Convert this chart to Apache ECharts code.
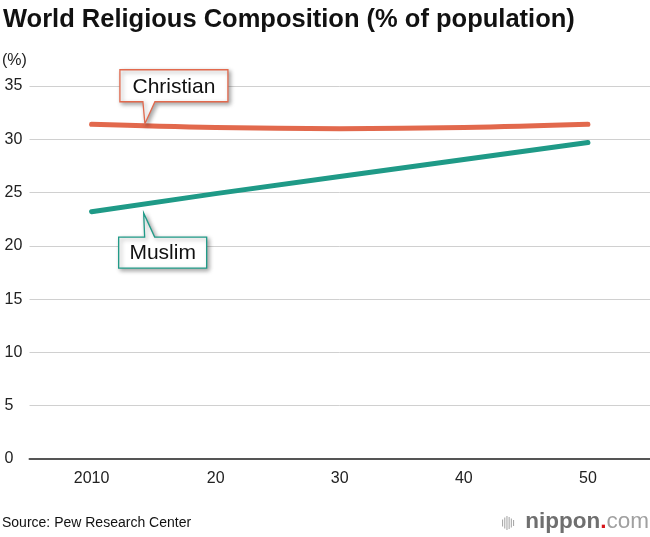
<!DOCTYPE html>
<html><head><meta charset="utf-8">
<script src="https://cdn.jsdelivr.net/npm/echarts@6/dist/echarts.min.js"></script>
<style>html,body{margin:0;padding:0;background:#fff}#c{width:650px;height:537px}</style>
</head><body><div id="c"></div>
<script>
// ---- data ----
const years = ['2010', '20', '30', '40', '50'];
const christian = [31.4, 31.1, 31.0, 31.1, 31.4];
const muslim = [23.2, 24.9, 26.5, 28.1, 29.7];
const yMin = 0, yMax = 35, yStep = 5;
const titleText = 'World Religious Composition (% of population)';
const unitText = '(%)';
const sourceText = 'Source: Pew Research Center';
const seriesNames = ['Christian', 'Muslim'];

const FONT = '"Liberation Sans", Arial, Helvetica, sans-serif';
const colors = ['#e2694d', '#1f9a87'];

const chart = echarts.init(document.getElementById('c'), null, {renderer: 'canvas'});
chart.setOption({
  animation: false,
  backgroundColor: '#fff',
  textStyle: {fontFamily: FONT},
  title: {
    text: titleText, left: 3, top: 7, padding: 0,
    textStyle: {fontSize: 25.5, fontWeight: 'bold', color: '#111', fontFamily: FONT}
  },
  grid: {left: 29.5, top: 86, width: 625, height: 373, containLabel: false},
  xAxis: {
    type: 'category', data: years, boundaryGap: true,
    axisLine: {lineStyle: {color: '#555', width: 2}},
    axisTick: {alignWithLabel: true, inside: true, length: 10, lineStyle: {color: '#ccc', width: 1}},
    axisLabel: {color: '#222', fontSize: 16, margin: 12, fontFamily: FONT},
    splitLine: {show: false}
  },
  yAxis: {
    type: 'value', min: yMin, max: yMax, interval: yStep,
    axisLine: {show: false}, axisTick: {show: false},
    axisLabel: {color: '#222', fontSize: 16, align: 'left', margin: 25, fontFamily: FONT},
    splitLine: {lineStyle: {color: '#d0d0d0', width: 1}}
  },
  series: [
    {name: seriesNames[0], type: 'line', data: christian, smooth: 0.4, showSymbol: false,
     lineStyle: {color: colors[0], width: 5, cap: 'round'}, z: 3},
    {name: seriesNames[1], type: 'line', data: muslim, smooth: false, showSymbol: false,
     lineStyle: {color: colors[1], width: 5, cap: 'round'}, z: 3}
  ]
});

// ---- annotations (positioned from data via the chart's scales) ----
function tipAt(si, data, frac, dy) {
  const p0 = chart.convertToPixel({seriesIndex: si}, [0, data[0]]);
  const p1 = chart.convertToPixel({seriesIndex: si}, [1, data[1]]);
  return [p0[0] + frac * (p1[0] - p0[0]), p0[1] + frac * (p1[1] - p0[1]) + dy];
}
function callout(tip, up, w, h, text, color) {
  const [tx, ty] = tip;
  const l = tx - 25, r = l + w;
  let pts, t, b;
  if (up) { // box above, pointer down
    b = ty - 22; t = b - h;
    pts = [[l, t], [r, t], [r, b], [tx + 10, b], [tx, ty], [tx - 2, b], [l, b]];
  } else {
    t = ty + 24; b = t + h;
    pts = [[l, t], [tx + 1, t], [tx, ty], [tx + 11, t], [r, t], [r, b], [l, b]];
  }
  return [
    {type: 'polygon', shape: {points: pts}, z: 10,
     style: {fill: '#fff', stroke: color, lineWidth: 1.3, shadowBlur: 4, shadowOffsetX: 2, shadowOffsetY: 2, shadowColor: 'rgba(0,0,0,0.35)'}},
    {type: 'text', x: (l + r) / 2, y: (t + b) / 2 + 1, z: 11,
     style: {text: text, font: '21px ' + FONT, fill: '#111', textAlign: 'center', textVerticalAlign: 'middle'}}
  ];
}
const cTip = tipAt(0, christian, 0.43, -2);
const mTip = tipAt(1, muslim, 0.42, 9);

const logoBars = [];
const barH = [7, 11, 14, 12, 9, 6];
barH.forEach((h, i) => {
  logoBars.push({type: 'rect', shape: {x: 502 + i * 2.2, y: 523 - h / 2, width: 1.1, height: h},
                 style: {fill: '#aaa'}});
});

chart.setOption({
  graphic: [
    {type: 'text', x: 2, y: 61, style: {text: unitText, font: '16px ' + FONT, fill: '#222', textVerticalAlign: 'middle'}},
    {type: 'text', x: 2, y: 523, style: {text: sourceText, font: '14px ' + FONT, fill: '#111', textVerticalAlign: 'middle'}},
    {type: 'text', x: 649, y: 522, style: {
      text: '{b|nippon}{r|.}{c|com}', textAlign: 'right', textVerticalAlign: 'middle',
      rich: {
        b: {fontSize: 22.5, fontWeight: 'bold', fill: '#6f6f6f', fontFamily: FONT},
        r: {fontSize: 22.5, fontWeight: 'bold', fill: '#d7141a', fontFamily: FONT},
        c: {fontSize: 22.5, fill: '#a0a0a0', fontFamily: FONT}
      }}},
    ...logoBars,
    ...callout(cTip, true, 108, 32, seriesNames[0], colors[0]),
    ...callout(mTip, false, 88, 31, seriesNames[1], colors[1])
  ]
});
</script>
</body></html>
